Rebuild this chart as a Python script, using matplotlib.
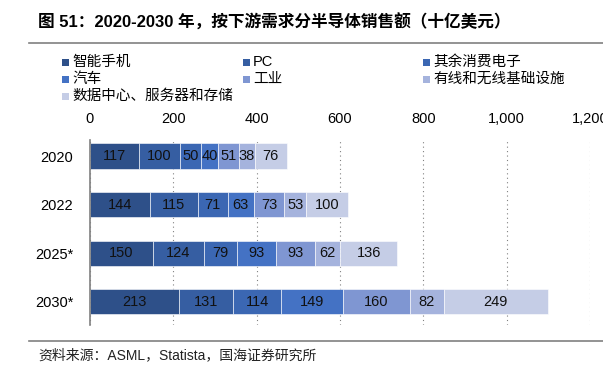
import numpy as np
import matplotlib.pyplot as plt
from matplotlib.patches import Rectangle
from matplotlib.lines import Line2D

plt.rcParams['font.family'] = ['Liberation Sans', 'Noto Sans CJK SC']

# data (billion USD)
years = ["2020", "2022", "2025*", "2030*"]
segments = ["智能手机", "PC", "其余消费电子", "汽车", "工业", "有线和无线基础设施", "数据中心、服务器和存储"]
smartphone = [117, 144, 150, 213]
pc = [100, 115, 124, 131]
consumer = [50, 71, 79, 114]
auto = [40, 63, 93, 149]
industrial = [51, 73, 93, 160]
infra = [38, 53, 62, 82]
datacenter = [76, 100, 136, 249]
series = [smartphone, pc, consumer, auto, industrial, infra, datacenter]
x_ticks = [0, 200, 400, 600, 800, 1000, 1200]

colors = ["#2E5089", "#365EA2", "#3B67B3", "#4472C4", "#7F96D2", "#A5B3DD", "#C5CDE6"]

fig = plt.figure(figsize=(6.03, 3.67), dpi=100)
W, H = 603, 367
ax = fig.add_axes([90 / W, 1 - 325 / H, 500 / W, 185 / H])

y = np.arange(len(years))
left = np.zeros(len(years))
for vals, col in zip(series, colors):
    bars = ax.barh(y, vals, left=left, height=0.52, color=col, edgecolor="white", linewidth=0.4)
    ax.bar_label(bars, labels=[str(v) for v in vals], label_type="center", fontsize=10.5, color="#111111")
    left += np.array(vals)

ax.set_xlim(0, 1200)
ax.set_ylim(3.48, -0.33)
ax.set_yticks(y)
ax.set_yticklabels(years, fontsize=10.5)
ax.set_xticks(x_ticks)
ax.set_xticklabels([f"{t:,}" for t in x_ticks], fontsize=10.5)
ax.xaxis.tick_top()
ax.tick_params(axis="both", length=0)
ax.tick_params(axis="x", pad=10)
ax.tick_params(axis="y", pad=12)
ax.grid(axis="x", linestyle=(0, (1, 3)), color="#808080", linewidth=0.8)
ax.set_axisbelow(True)
for s in ["top", "right", "bottom"]:
    ax.spines[s].set_visible(False)
ax.spines["left"].set_color("#808080")
ax.spines["left"].set_linewidth(1.2)

# legend laid out row by row in 3 columns
col_x = [62, 243, 423]
row_y = [62, 79, 96]
for i, (name, col) in enumerate(zip(segments, colors)):
    cx = col_x[i % 3]
    ry = row_y[i // 3]
    fig.patches.append(Rectangle((cx / W, 1 - (ry + 4) / H), 7 / W, 7 / H,
                                 transform=fig.transFigure, facecolor=col, edgecolor="none"))
    fig.text((cx + 10) / W, 1 - ry / H, name, fontsize=10.5, va="center", ha="left")

# title, rules and source
fig.text(38 / W, 1 - 22 / H, "图 51：2020-2030 年，按下游需求分半导体销售额（十亿美元）",
         fontsize=12, fontweight="bold", va="center", ha="left")
fig.add_artist(Line2D([29 / W, 1], [1 - 43 / H, 1 - 43 / H], color="#808080", linewidth=1.2,
                      transform=fig.transFigure))
fig.add_artist(Line2D([29 / W, 1], [1 - 341 / H, 1 - 341 / H], color="#808080", linewidth=1.2,
                      transform=fig.transFigure))
fig.text(38 / W, 1 - 355 / H, "资料来源：ASML，Statista，国海证券研究所",
         fontsize=10, va="center", ha="left", color="#222222")

fig.savefig("out.png", dpi=100)
